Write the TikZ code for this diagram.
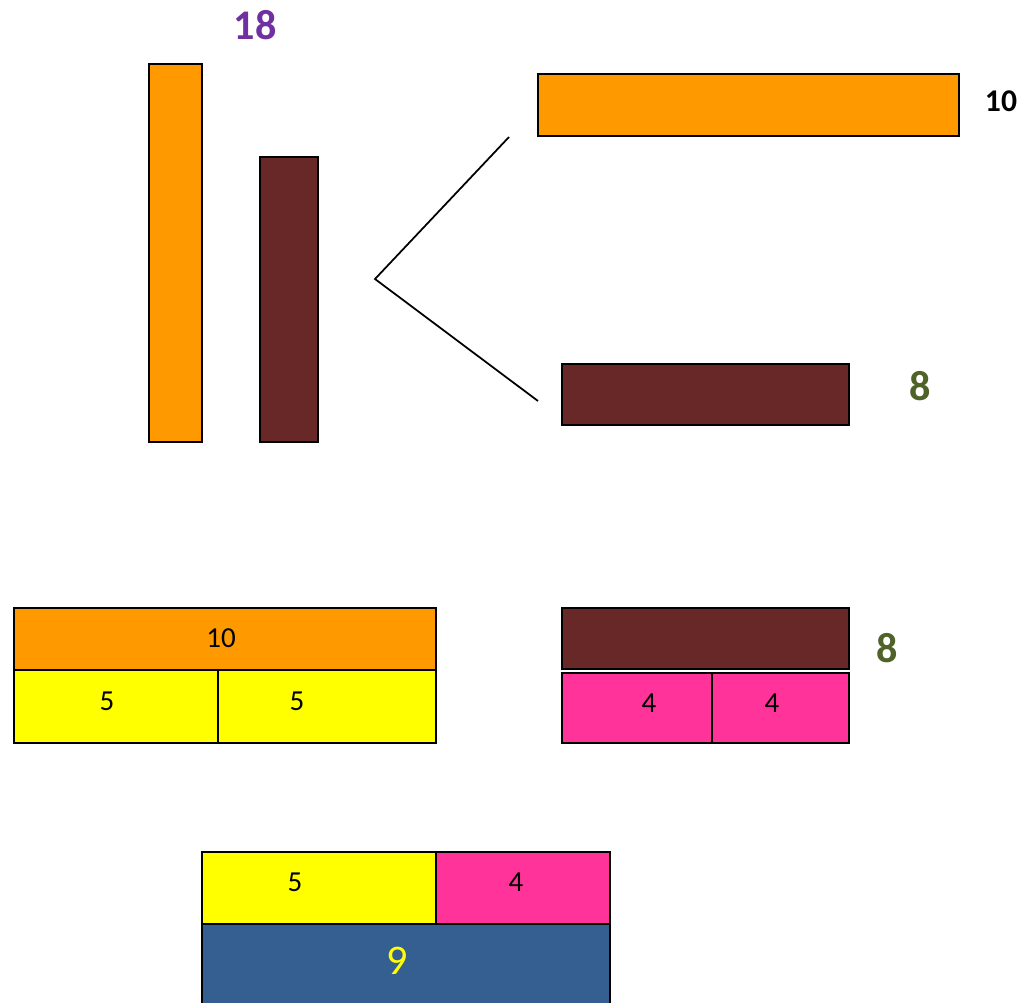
\documentclass[tikz,border=0pt]{standalone}
\usepackage{fontspec}
\setmainfont{Carlito}
\usetikzlibrary{positioning}
\definecolor{barorange}{HTML}{FF9900}
\definecolor{barbrown}{HTML}{692828}
\definecolor{baryellow}{HTML}{FFFF00}
\definecolor{barpink}{HTML}{FF3399}
\definecolor{barblue}{HTML}{365F91}
\definecolor{numpurple}{HTML}{7030A0}
\definecolor{numgreen}{HTML}{4F6228}

\begin{document}
\begin{tikzpicture}[
    x=0.2mm,y=-0.2mm,
    node distance=0pt,
    bar/.style={draw=black,line width=1pt,inner sep=0pt,outer sep=0pt,font=\fontsize{16.5}{19}\selectfont},
    barlbl/.style={font=\fontsize{16.5}{19}\selectfont},
    num/.style={font=\fontsize{24}{28}\selectfont\bfseries},
    link/.style={line width=1pt,draw=black}
  ]
    \useasboundingbox (0,0) rectangle (1029,1003);
    \clip (0,0) rectangle (1029,1003);
    % the whole, standing
    \node[bar,fill=barorange,minimum width=1.06cm,minimum height=7.56cm] (tenup) at (175.5,253) {};
    \node[bar,fill=barbrown,minimum width=1.16cm,minimum height=5.70cm] (eightup) at (289,299.5) {};
    \node[num,text=numpurple] (total) at (255,25) {18};
    % split into two
    \node[bar,fill=barorange,minimum width=8.42cm,minimum height=1.24cm] (tenbar) at (748.5,105) {};
    \node[font=\fontsize{18}{21}\selectfont\bfseries] (tenlbl) at (1001,101) {10};
    \node[bar,fill=barbrown,minimum width=5.74cm,minimum height=1.22cm] (eightbar) at (705.5,394.5) {};
    \node[num,text=numgreen] (eightlbl) at (920,386) {8};
    \coordinate (fork) at (375,279);
    \coordinate (forkup) at (509,137);
    \coordinate (forkdown) at (538,401);
    \draw[link] (forkup) -- (fork) -- (forkdown);
    % halves
    \node[bar,fill=barorange,minimum width=8.44cm,minimum height=1.24cm] (tenhalf) at (225,639) {};
    \node[barlbl] (tenhalflbl) at (221,638) {10};
    \node[bar,fill=baryellow,minimum width=4.08cm,minimum height=1.46cm,below right=of tenhalf.south west] (fiveA) {};
    \node[bar,fill=baryellow,minimum width=4.36cm,minimum height=1.46cm,right=of fiveA] (fiveB) {};
    \node[barlbl] (fiveAlbl) at (107,701) {5};
    \node[barlbl] (fiveBlbl) at (297,701) {5};
    \node[bar,fill=barbrown,minimum width=5.74cm,minimum height=1.22cm] (eighthalf) at (705.5,638.5) {};
    \node[num,text=numgreen] (eighthalflbl) at (887,648) {8};
    \node[bar,fill=barpink,minimum width=3.00cm,minimum height=1.40cm] (fourA) at (637,708) {};
    \node[bar,fill=barpink,minimum width=2.74cm,minimum height=1.40cm,right=of fourA] (fourB) {};
    \node[barlbl] (fourAlbl) at (649,703) {4};
    \node[barlbl] (fourBlbl) at (772,703) {4};
    % regrouped
    \node[bar,fill=baryellow,minimum width=4.68cm,minimum height=1.44cm] (fiveC) at (319,888) {};
    \node[bar,fill=barpink,minimum width=3.48cm,minimum height=1.44cm,right=of fiveC] (fourC) {};
    \node[barlbl] (fiveClbl) at (295,882) {5};
    \node[barlbl] (fourClbl) at (516,882) {4};
    \node[bar,fill=barblue,minimum width=8.16cm,minimum height=1.76cm,below right=of fiveC.south west] (nine) {};
    \node[font=\fontsize{24}{28}\selectfont,text=baryellow] (ninelbl) at (397,961) {9};
  \end{tikzpicture}
\end{document}
